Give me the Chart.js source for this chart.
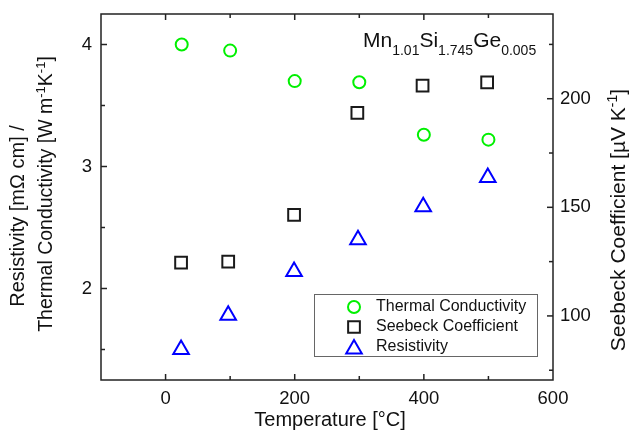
<!DOCTYPE html>
<html>
<head>
<meta charset="utf-8">
<script src="https://cdn.jsdelivr.net/npm/chart.js@4.4.0/dist/chart.umd.min.js"></script>
<style>
html, body { margin: 0; padding: 0; background: #fff; }
canvas { display: block; }
</style>
</head>
<body>
<canvas id="myChart" width="629" height="434"></canvas>
<script>
// values
const tcTemps = [25, 100, 200, 300, 400, 500];
const tcValues = [4.00, 3.95, 3.70, 3.69, 3.26, 3.22];          // W m-1 K-1 (left axis)
const sbTemps = [24, 97, 199, 297, 398, 498];
const sbValues = [124.5, 125, 146.5, 193.5, 206, 207.5];        // µV K-1 (right axis)
const rsTemps = [24, 97, 199, 298, 399, 499];
const rsValues = [1.50, 1.78, 2.14, 2.40, 2.67, 2.91];          // mΩ cm (left axis)
const seriesNames = ["Thermal Conductivity", "Seebeck Coefficient", "Resistivity"];
const xTicks = [0, 200, 400, 600];
const yTicks = [2, 3, 4];
const y2Ticks = [100, 150, 200];

const FONT = "'Liberation Sans', Arial, sans-serif";
const GREEN = '#00f000';
const BLACK = '#1a1a1a';
const BLUE = '#0000ff';

const toPoints = (xs, ys) => xs.map((x, i) => ({ x: x, y: ys[i] }));

// draw text with sub/superscripts: parts = [[text, ''|'sup'|'sub'], ...]
function drawRich(ctx, parts, x, y, size, opts) {
    opts = opts || {};
    const small = Math.round(size * 0.66);
    let w = 0;
    parts.forEach(p => {
        ctx.font = (p[1] ? small : size) + 'px ' + FONT;
        w += ctx.measureText(p[0]).width;
    });
    ctx.save();
    ctx.translate(x, y);
    if (opts.rot) ctx.rotate(opts.rot);
    let cx = opts.left ? 0 : -w / 2;
    const base = opts.left ? 0 : size * 0.36;
    ctx.textBaseline = 'alphabetic';
    ctx.textAlign = 'left';
    ctx.fillStyle = '#111';
    parts.forEach(p => {
        ctx.font = (p[1] ? small : size) + 'px ' + FONT;
        let dy = 0;
        if (p[1] === 'sup') dy = -size * 0.38;
        if (p[1] === 'sub') dy = size * (opts.subDrop || 0.3);
        ctx.fillText(p[0], cx, base + dy);
        cx += ctx.measureText(p[0]).width;
    });
    ctx.restore();
}

function marker(ctx, style, x, y, r) {
    ctx.beginPath();
    if (style === 'circle') {
        ctx.arc(x, y, r, 0, Math.PI * 2);
    } else if (style === 'rect') {
        const s = r * Math.SQRT1_2;
        ctx.rect(x - s, y - s, 2 * s, 2 * s);
    } else {
        ctx.moveTo(x, y - r);
        ctx.lineTo(x + r * 0.866, y + r / 2);
        ctx.lineTo(x - r * 0.866, y + r / 2);
        ctx.closePath();
    }
    ctx.stroke();
}

const decorations = {
    id: 'decorations',
    afterDraw(chart) {
        const { ctx, chartArea: a, scales } = chart;
        ctx.save();
        ctx.strokeStyle = '#222';
        ctx.lineWidth = 1.5;
        ctx.strokeRect(a.left, a.top, a.right - a.left, a.bottom - a.top);
        const tick = (x1, y1, x2, y2) => { ctx.beginPath(); ctx.moveTo(x1, y1); ctx.lineTo(x2, y2); ctx.stroke(); };
        for (let v = 0; v <= 500; v += 100) {
            const px = scales.x.getPixelForValue(v);
            const len = v % 200 === 0 ? 6 : 4;
            tick(px, a.bottom, px, a.bottom - len);
            tick(px, a.top, px, a.top + len);
        }
        for (let v = 1.5; v <= 4; v += 0.5) {
            const py = scales.y.getPixelForValue(v);
            tick(a.left, py, a.left + (v % 1 === 0 ? 6 : 4), py);
        }
        for (let v = 75; v <= 225; v += 25) {
            const py = scales.y2.getPixelForValue(v);
            tick(a.right, py, a.right - (v % 50 === 0 ? 6 : 4), py);
        }

        // axis titles
        drawRich(ctx, [['Temperature [°C]', '']], 330, 419, 20);
        drawRich(ctx, [['Resistivity [mΩ cm] /', '']], 17, 216, 20, { rot: -Math.PI / 2 });
        drawRich(ctx, [['Thermal Conductivity [W m', ''], ['-1', 'sup'], ['K', ''], ['-1', 'sup'], [']', '']],
            45, 194, 19.5, { rot: -Math.PI / 2 });
        drawRich(ctx, [['Seebeck Coefficient [µV K', ''], ['-1', 'sup'], [']', '']],
            617, 220, 21, { rot: -Math.PI / 2 });

        // compound label
        drawRich(ctx, [['Mn', ''], ['1.01', 'sub'], ['Si', ''], ['1.745', 'sub'], ['Ge', ''], ['0.005', 'sub']],
            363, 47, 21, { left: true, subDrop: 0.4 });

        // legend
        ctx.strokeStyle = '#666';
        ctx.lineWidth = 1;
        ctx.strokeRect(314.5, 294.5, 223, 62);
        const styles = [['circle', GREEN, 6], ['rect', BLACK, 8.3], ['triangle', BLUE, 9]];
        const rows = [307, 327, 347];
        ctx.lineWidth = 2;
        ctx.font = '16px ' + FONT;
        ctx.textBaseline = 'middle';
        ctx.fillStyle = '#111';
        styles.forEach((s, i) => {
            ctx.strokeStyle = s[1];
            marker(ctx, s[0], 354, i === 2 ? rows[i] + 2 : rows[i], s[2]);
            ctx.fillText(seriesNames[i], 376, rows[i]);
        });
        ctx.restore();
    }
};

const tickFont = { family: FONT, size: 18.5 };
const noPad = s => { s.paddingTop = 0; s.paddingBottom = 0; s.paddingLeft = 0; s.paddingRight = 0; };
const noGrid = { display: false, drawTicks: false, tickLength: 0 };

new Chart(document.getElementById('myChart'), {
    type: 'scatter',
    data: {
        datasets: [
            {
                label: seriesNames[0],
                data: toPoints(tcTemps, tcValues),
                yAxisID: 'y',
                pointStyle: 'circle',
                pointRadius: 6,
                borderWidth: 2,
                borderColor: GREEN,
                backgroundColor: 'rgba(0,0,0,0)'
            },
            {
                label: seriesNames[1],
                data: toPoints(sbTemps, sbValues),
                yAxisID: 'y2',
                pointStyle: 'rect',
                pointRadius: 8.3,
                borderWidth: 2,
                borderColor: BLACK,
                backgroundColor: 'rgba(0,0,0,0)'
            },
            {
                label: seriesNames[2],
                data: toPoints(rsTemps, rsValues),
                yAxisID: 'y',
                pointStyle: 'triangle',
                pointRadius: 9,
                borderWidth: 2,
                borderColor: BLUE,
                backgroundColor: 'rgba(0,0,0,0)'
            }
        ]
    },
    options: {
        responsive: false,
        animation: false,
        devicePixelRatio: 1,
        events: [],
        layout: { padding: { top: 14, left: 0, right: 0, bottom: 0 } },
        scales: {
            x: {
                type: 'linear',
                min: -100,
                max: 600,
                afterBuildTicks: s => { s.ticks = xTicks.map(v => ({ value: v })); },
                afterFit: s => { s.height = 54; noPad(s); },
                grid: noGrid,
                border: { display: false },
                ticks: { font: tickFont, color: '#111', padding: 8, maxRotation: 0 }
            },
            y: {
                position: 'left',
                min: 1.25,
                max: 4.25,
                afterBuildTicks: s => { s.ticks = yTicks.map(v => ({ value: v })); },
                afterFit: s => { s.width = 101; noPad(s); },
                grid: noGrid,
                border: { display: false },
                ticks: { font: tickFont, color: '#111', padding: 9 }
            },
            y2: {
                position: 'right',
                min: 70.5,
                max: 239,
                afterBuildTicks: s => { s.ticks = y2Ticks.map(v => ({ value: v })); },
                afterFit: s => { s.width = 76; noPad(s); },
                grid: noGrid,
                border: { display: false },
                ticks: { font: tickFont, color: '#111', padding: 7 }
            }
        },
        plugins: {
            legend: { display: false },
            tooltip: { enabled: false }
        }
    },
    plugins: [decorations]
});
</script>
</body>
</html>
